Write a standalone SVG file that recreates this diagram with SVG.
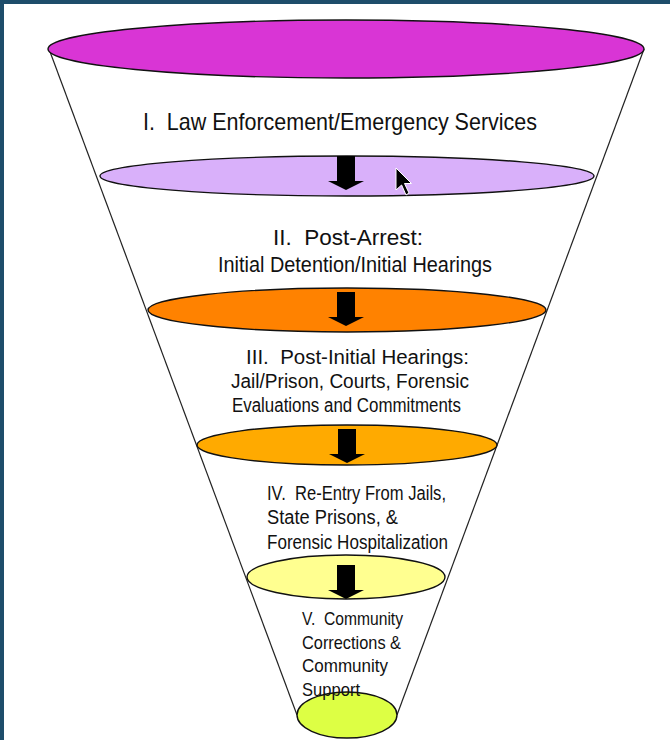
<svg xmlns="http://www.w3.org/2000/svg" width="670" height="740" viewBox="0 0 670 740">
<style>
.disc{stroke:#111;stroke-width:1.4}
.cone{stroke:#222;stroke-width:1.2;fill:none}
.lbl{font-family:"Liberation Sans",Arial,sans-serif;fill:#111;white-space:pre}
.arrow{fill:#000}
</style>
<defs>
<path id="blockArrow" d="M-9,0 H9 V25 H18 L0,34 L-18,25 H-9 Z"/>
</defs>
<rect x="0" y="0" width="670" height="740" fill="#ffffff"/>
<rect x="0" y="0" width="670" height="4" fill="#1e4d6b"/>
<rect x="0" y="0" width="4" height="740" fill="#1e4d6b"/>
<g id="funnel-sides">
<line class="cone" x1="49" y1="49" x2="297" y2="715"/>
<line class="cone" x1="644" y1="49" x2="397" y2="715"/>
</g>
<g id="level1">
<ellipse class="disc" cx="346" cy="49" rx="298" ry="29" fill="#d935d5"/>
<text class="lbl" x="143" y="130" font-size="24" textLength="394" lengthAdjust="spacingAndGlyphs" xml:space="preserve">I.  Law Enforcement/Emergency Services</text>
</g>
<g id="level2">
<ellipse class="disc" cx="347" cy="176" rx="247" ry="20" fill="#d9b0fa"/>
<text class="lbl" x="273" y="245" font-size="22.5" textLength="150" lengthAdjust="spacingAndGlyphs" xml:space="preserve">II.  Post-Arrest:</text>
<text class="lbl" x="218" y="272" font-size="22.5" textLength="274" lengthAdjust="spacingAndGlyphs">Initial Detention/Initial Hearings</text>
</g>
<g id="level3">
<ellipse class="disc" cx="347" cy="310" rx="199" ry="22" fill="#ff8200"/>
<text class="lbl" x="246" y="364" font-size="19.5" textLength="223" lengthAdjust="spacingAndGlyphs" xml:space="preserve">III.  Post-Initial Hearings:</text>
<text class="lbl" x="231" y="388" font-size="19.5" textLength="238" lengthAdjust="spacingAndGlyphs">Jail/Prison, Courts, Forensic</text>
<text class="lbl" x="232" y="412" font-size="19.5" textLength="229" lengthAdjust="spacingAndGlyphs">Evaluations and Commitments</text>
</g>
<g id="level4">
<ellipse class="disc" cx="347" cy="445" rx="150" ry="20" fill="#ffaa00"/>
<text class="lbl" x="267" y="500" font-size="19.5" textLength="179" lengthAdjust="spacingAndGlyphs" xml:space="preserve">IV.  Re-Entry From Jails,</text>
<text class="lbl" x="267" y="524" font-size="19.5" textLength="131" lengthAdjust="spacingAndGlyphs">State Prisons, &amp;</text>
<text class="lbl" x="267" y="549" font-size="19.5" textLength="181" lengthAdjust="spacingAndGlyphs">Forensic Hospitalization</text>
</g>
<g id="level5">
<ellipse class="disc" cx="346" cy="577" rx="99" ry="22" fill="#ffff90"/>
<text class="lbl" x="302" y="625" font-size="19" textLength="101" lengthAdjust="spacingAndGlyphs" xml:space="preserve">V.  Community</text>
<text class="lbl" x="302" y="649" font-size="19" textLength="99" lengthAdjust="spacingAndGlyphs">Corrections &amp;</text>
<text class="lbl" x="302" y="672" font-size="19" textLength="86" lengthAdjust="spacingAndGlyphs">Community</text>
</g>
<g id="level6">
<ellipse class="disc" cx="347" cy="715" rx="50" ry="23" fill="#ddff44"/>
<text class="lbl" x="302" y="696" font-size="19" textLength="58" lengthAdjust="spacingAndGlyphs">Support</text>
</g>
<g id="connectors">
<use href="#blockArrow" class="arrow" x="346" y="156"/>
<use href="#blockArrow" class="arrow" x="346" y="292"/>
<use href="#blockArrow" class="arrow" x="347" y="429"/>
<use href="#blockArrow" class="arrow" x="346" y="565"/>
</g>
<g id="cursor">
<path d="M396,168 V190 L401.6,185 L406,195 L409,193 L404.5,183.5 L411.5,183.5 Z" fill="#000" stroke="#fff" stroke-width="1"/>
</g>
</svg>
